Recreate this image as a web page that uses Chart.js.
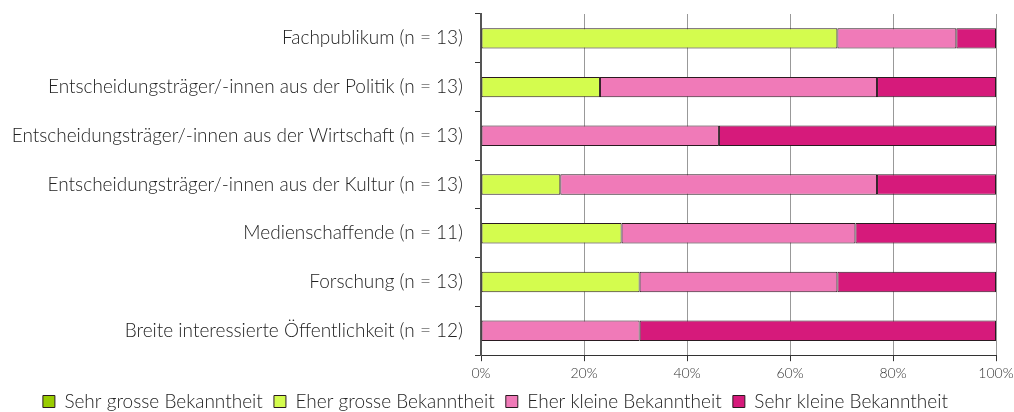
<!DOCTYPE html>
<html>
<head>
<meta charset="utf-8">
<script src="https://cdn.jsdelivr.net/npm/chart.js@4"></script>
<style>
  body { margin: 0; background: #fff; }
  #wrap { width: 1014px; height: 412px; }
</style>
</head>
<body>
<div id="wrap"><canvas id="grafico"></canvas></div>
<script>
const categorias = [
  'Fachpublikum (n = 13)',
  'Entscheidungsträger/-innen aus der Politik (n = 13)',
  'Entscheidungsträger/-innen aus der Wirtschaft (n = 13)',
  'Entscheidungsträger/-innen aus der Kultur (n = 13)',
  'Medienschaffende (n = 11)',
  'Forschung (n = 13)',
  'Breite interessierte Öffentlichkeit (n = 12)'
];

// Anteile in Prozent
const sehrGross  = [0, 0, 0, 0, 0, 0, 0];
const eherGross  = [69.2, 23.1, 0, 15.4, 27.3, 30.8, 0];
const eherKlein  = [23.1, 53.8, 46.2, 61.5, 45.4, 38.4, 30.8];
const sehrKlein  = [7.7, 23.1, 53.8, 23.1, 27.3, 30.8, 69.2];

const xTicks = [0, 20, 40, 60, 80, 100];

const fonte = "'Lato', 'Open Sans', sans-serif";

const data = {
  labels: categorias,
  datasets: [{
    label: 'Sehr grosse Bekanntheit',
    backgroundColor: '#99cc00',
    data: sehrGross
  }, {
    label: 'Eher grosse Bekanntheit',
    backgroundColor: '#d4fc4e',
    data: eherGross
  }, {
    label: 'Eher kleine Bekanntheit',
    backgroundColor: '#f07ab8',
    data: eherKlein
  }, {
    label: 'Sehr kleine Bekanntheit',
    backgroundColor: '#d61a7b',
    data: sehrKlein
  }]
};

data.datasets.forEach(function (ds) {
  ds.borderColor = '#2a1a20';
  ds.borderWidth = 1;
  ds.borderSkipped = false;
  ds.categoryPercentage = 1;
  ds.barPercentage = 0.42;
});

// legenda mais baixa: reduz a altura do bloco
const ajusteLegenda = {
  id: 'ajusteLegenda',
  afterInit(chart) {
    const lg = chart.legend;
    const fitOriginal = lg.fit.bind(lg);
    lg.fit = function () {
      fitOriginal();
      this.height = 26;
    };
  }
};

const config = {
  type: 'bar',
  data: data,
  plugins: [ajusteLegenda],
  options: {
    indexAxis: 'y',
    responsive: false,
    animation: false,
    layout: { padding: { top: 14, right: 18, left: 0, bottom: 0 } },
    plugins: {
      tooltip: { enabled: false },
      legend: {
        position: 'bottom',
        labels: {
          font: { family: fonte, size: 19, weight: 300 },
          color: '#222',
          boxWidth: 12,
          boxHeight: 12,
          padding: 6,
          generateLabels: function (chart) {
            const itens = Chart.defaults.plugins.legend.labels.generateLabels(chart);
            itens.forEach(it => { it.text = it.text + ' '; });
            return itens;
          }
        }
      }
    },
    scales: {
      x: {
        stacked: true,
        min: 0,
        max: 100,
        afterBuildTicks: function (scale) {
          scale.ticks = xTicks.map(v => ({ value: v }));
        },
        afterFit: function (scale) {
          scale.paddingLeft = 0;
          scale.paddingRight = 0;
        },
        ticks: {
          callback: v => v + '%',
          font: { family: fonte, size: 14, weight: 300 },
          color: '#333',
          padding: 4,
          maxRotation: 0
        },
        grid: {
          color: '#999',
          tickColor: '#333',
          tickLength: 6
        },
        border: { color: '#333', width: 1 }
      },
      y: {
        stacked: true,
        afterFit: function (scale) {
          scale.width = 481;
          scale.paddingTop = 0;
          scale.paddingBottom = 0;
        },
        ticks: {
          font: { family: fonte, size: 19, weight: 300 },
          color: '#222',
          padding: 12
        },
        grid: {
          offset: true,
          drawOnChartArea: false,
          tickColor: '#333',
          tickLength: 6
        },
        border: { color: '#555', width: 2 }
      }
    }
  }
};

const ctx = document.getElementById('grafico');
ctx.width = 1014;
ctx.height = 412;
window.meuGrafico = new Chart(ctx, config);
</script>
</body>
</html>
